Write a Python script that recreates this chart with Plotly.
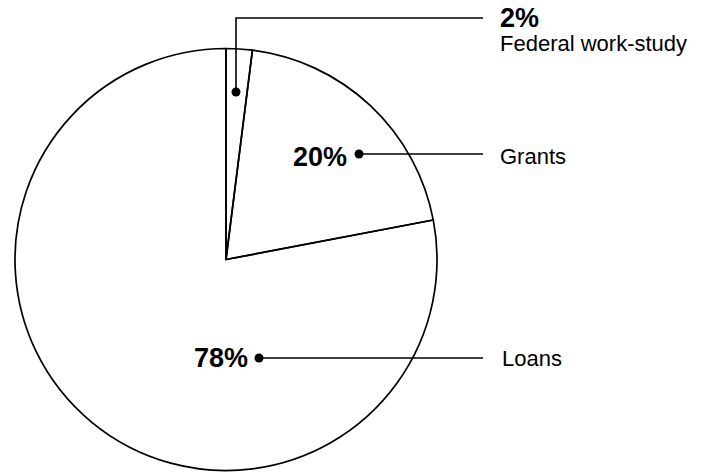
import plotly.graph_objects as go

# ---- data ----
categories = ["Federal work-study", "Grants", "Loans"]
shares = [2, 20, 78]
pct_labels = ["2%", "20%", "78%"]

W, H = 701, 473
FONT = "Liberation Sans, Arial, Helvetica, sans-serif"

fig = go.Figure()

# leader lines (pixel layout positions), drawn beneath the transparent pie
leaders = [
    [(236, 92), (236, 18), (483, 18)],
    [(359, 154), (483, 154)],
    [(259, 358), (483, 358)],
]
for pts in leaders:
    fig.add_trace(go.Scatter(
        x=[p[0] for p in pts], y=[p[1] for p in pts],
        mode="lines", line=dict(color="black", width=1.6),
        hoverinfo="skip", showlegend=False,
    ))
    fig.add_trace(go.Scatter(
        x=[pts[0][0]], y=[pts[0][1]], mode="markers",
        marker=dict(color="black", size=9),
        hoverinfo="skip", showlegend=False,
    ))

# pie (center ~ (226, 259.5) px, radius ~211 px)
cx, cy, r = 226, 259.5, 211
fig.add_trace(go.Pie(
    values=shares,
    labels=categories,
    sort=False,
    direction="clockwise",
    rotation=0,
    textinfo="none",
    hoverinfo="skip",
    showlegend=False,
    marker=dict(colors=["rgba(0,0,0,0)"] * len(shares), line=dict(color="black", width=1.7)),
    domain=dict(x=[(cx - r) / W, (cx + r) / W], y=[1 - (cy + r) / H, 1 - (cy - r) / H]),
))

# percentage labels
pct_pos = [(498, 18, "left"), (349, 157, "right"), (250, 358, "right")]
for txt, (x, y, anc) in zip(pct_labels, pct_pos):
    fig.add_annotation(x=x, y=y, text=f"<b>{txt}</b>", showarrow=False,
                       xanchor=anc, yanchor="middle", xref="x", yref="y",
                       height=22,
                       font=dict(family=FONT, size=27, color="black"))

# category labels
cat_pos = [(498, 43), (498, 156), (500, 358)]
for txt, (x, y) in zip(categories, cat_pos):
    fig.add_annotation(x=x, y=y, text=txt, showarrow=False,
                       xanchor="left", yanchor="middle", xref="x", yref="y",
                       height=27,
                       font=dict(family=FONT, size=22, color="black"))

fig.update_layout(
    width=W, height=H,
    margin=dict(l=0, r=0, t=0, b=0),
    paper_bgcolor="white", plot_bgcolor="white",
    xaxis=dict(range=[0, W], visible=False, fixedrange=True),
    yaxis=dict(range=[H, 0], visible=False, fixedrange=True),
    showlegend=False,
)

fig.write_html("out.html", config={"displayModeBar": False},
               post_script="document.body.style.margin='0';")
